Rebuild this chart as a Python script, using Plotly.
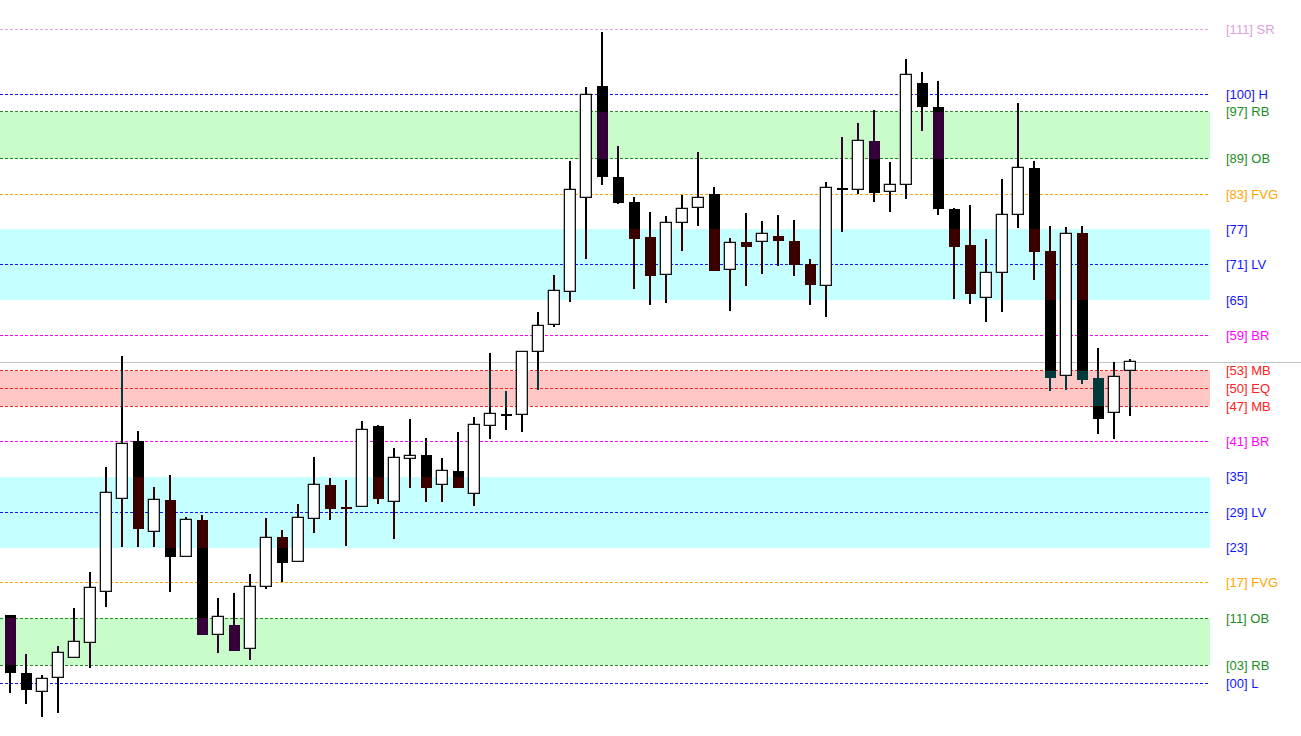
import plotly.graph_objects as go

# ---------------- data ----------------
opens = [11.5, 1.7, -1.58, 0.8, 4.19, 6.74, 15.4, 31.19, 41.09, 25.59,
         31.02, 21.34, 27.67, 8.1, 9.8, 5.72, 16.25, 24.74, 20.49, 27.79,
         33.56, 29.9, 29.83, 43.58, 30.73, 37.98, 38.71, 33.56, 35.94, 32.04,
         43.58, 45.6, 45.45, 56.15, 60.78, 66.33, 82.29, 101.3, 85.86, 81.6,
         75.67, 69.32, 78.05, 80.6, 83.0, 70.07, 74.82, 74.82, 75.84, 74.99,
         71.09, 67.35, 84.1, 83.65, 91.97, 83.3, 84.5, 101.8, 97.74, 80.42,
         74.3, 65.3, 69.56, 79.4, 87.39, 73.3, 52.07, 76.4, 51.78, 45.79,
         52.92]
highs = [11.5, 4.92, 1.36, 6.28, 12.73, 18.8, 36.67, 55.52, 42.78, 33.28,
         35.31, 28.18, 28.52, 14.43, 15.28, 18.5, 28.01, 25.98, 30.39, 38.37,
         34.8, 34.47, 44.48, 43.8, 39.9, 44.82, 41.6, 38.15, 42.6, 45.16,
         56.03, 49.58, 56.15, 62.94, 69.2, 88.62, 101.2, 110.5, 91.17, 82.46,
         79.9, 79.24, 82.8, 90.1, 84.16, 75.5, 79.8, 78.4, 79.46, 78.6,
         71.94, 85.0, 92.7, 95.08, 97.28, 88.45, 105.9, 103.7, 102.2, 80.7,
         81.1, 75.3, 85.57, 98.47, 88.6, 77.6, 77.37, 77.6, 56.88, 54.5,
         55.0]
lows = [-1.65, -3.5, -5.72, -5.15, 4.19, 2.5, 12.95, 23.04, 23.04, 23.04,
        15.4, 21.34, 8.2, 5.14, 5.48, 3.96, 15.9, 17.2, 20.49, 25.52,
        27.73, 23.3, 29.83, 30.34, 24.5, 33.16, 30.68, 30.78, 33.16, 30.1,
        41.37, 42.9, 42.56, 49.7, 60.4, 64.74, 71.94, 84.5, 81.27, 66.94,
        64.23, 64.57, 73.4, 77.64, 70.0, 63.2, 67.45, 69.5, 70.85, 69.15,
        64.23, 62.19, 76.6, 83.0, 81.7, 80.0, 82.2, 93.8, 79.4, 65.25,
        64.3, 61.34, 62.94, 77.3, 68.47, 49.6, 49.8, 50.8, 42.33, 41.43,
        45.4]
closes = [1.65, -1.14, 0.63, 5.04, 6.91, 16.08, 32.2, 40.53, 26.2, 31.02,
          21.34, 27.62, 8.2, 11.15, 5.48, 16.25, 24.57, 20.43, 27.96, 33.56,
          29.6, 29.6, 42.9, 31.19, 38.15, 38.49, 33.16, 35.94, 33.16, 43.75,
          45.62, 45.45, 56.15, 60.56, 66.5, 83.65, 99.78, 85.86, 81.55, 75.43,
          69.15, 78.05, 80.42, 82.29, 70.0, 74.65, 74.07, 76.18, 75.1, 71.02,
          67.52, 83.99, 83.8, 91.97, 83.24, 84.6, 103.2, 97.74, 80.42, 74.07,
          66.1, 69.56, 79.4, 87.39, 73.23, 51.83, 76.23, 51.5, 44.77, 51.95,
          54.45]

level_values = [111, 100, 97, 89, 83, 77, 71, 65, 59, 53, 50, 47, 41, 35, 29, 23, 17, 11, 3, 0]
level_labels = ["[111] SR", "[100] H", "[97] RB", "[89] OB", "[83] FVG", "[77]", "[71] LV",
                "[65]", "[59] BR", "[53] MB", "[50] EQ", "[47] MB", "[41] BR", "[35]",
                "[29] LV", "[23]", "[17] FVG", "[11] OB", "[03] RB", "[00] L"]
level_colors = ["#dda0dd", "#1414ff", "#228b22", "#228b22", "#ffa500", "#1414ff", "#1414ff",
                "#1414ff", "#ff00ff", "#ff2020", "#ff2020", "#ff2020", "#ff00ff", "#1414ff",
                "#1414ff", "#1414ff", "#ffa500", "#228b22", "#228b22", "#1414ff"]
level_has_line = [True, True, True, True, True, False, True, False, True, True, True, True,
                  True, False, True, False, True, True, True, True]

zone_lows = [89, 65, 47, 23, 3]
zone_highs = [97, 77, 53, 35, 11]
zone_fills = ["#c8fcc8", "#c6ffff", "#ffc6c6", "#c6ffff", "#c8fcc8"]
zone_candle_colors = ["#35003a", "#3a0000", "#003a3a", "#3a0000", "#35003a"]

current_price = 54.5

# ---------------- geometry ----------------
X0, X1 = -0.644, 80.67
Y0, Y1 = -8.998, 115.96
LINE_END = 75.0
LABEL_X = 75.88
BODY_W = 0.66
WICK_W = 0.075
MIN_BODY = 0.35


def zone_color(v, default="#000000"):
    for lo, hi, c in zip(zone_lows, zone_highs, zone_candle_colors):
        if lo <= v <= hi:
            return c
    return default


def split_segments(lo, hi):
    edges = sorted(set([lo, hi] + [e for e in zone_lows + zone_highs if lo < e < hi]))
    return [(a, b, zone_color((a + b) / 2)) for a, b in zip(edges[:-1], edges[1:])]


fig = go.Figure()
shapes = []

# zones (below traces)
for lo, hi, c in zip(zone_lows, zone_highs, zone_fills):
    shapes.append(dict(type="rect", xref="x", yref="y", x0=X0, x1=LINE_END, y0=lo, y1=hi,
                       fillcolor=c, line=dict(width=0), layer="below"))

# current price line
shapes.append(dict(type="line", xref="x", yref="y", x0=X0, x1=X1, y0=current_price,
                   y1=current_price, line=dict(color="#c4c4c4", width=1), layer="below"))

# level lines
for v, c, has in zip(level_values, level_colors, level_has_line):
    if has:
        shapes.append(dict(type="line", xref="x", yref="y", x0=X0, x1=LINE_END, y0=v, y1=v,
                           line=dict(color=c, width=1, dash="3px,2px"), layer="below"))

# wicks (as thin bars so they sit under the bodies), split by zone colour
wick = {}
for i, (h, l) in enumerate(zip(highs, lows)):
    for a, b, c in split_segments(l, h):
        xs, bs, hs = wick.setdefault(c, ([], [], []))
        xs.append(i)
        bs.append(a)
        hs.append(b - a)
for c, (xs, bs, hs) in wick.items():
    fig.add_trace(go.Bar(x=xs, y=hs, base=bs, width=WICK_W,
                         marker=dict(color=c, line=dict(width=0)), hoverinfo="skip"))

# bodies
bear = {}
bull_x, bull_base, bull_h = [], [], []
for i, (o, c) in enumerate(zip(opens, closes)):
    lo, hi = min(o, c), max(o, c)
    if hi - lo < MIN_BODY:
        m = (hi + lo) / 2
        lo, hi = m - MIN_BODY / 2, m + MIN_BODY / 2
    if c > o:
        bull_x.append(i)
        bull_base.append(lo)
        bull_h.append(hi - lo)
    else:
        for a, b, col in split_segments(lo, hi):
            xs, bs, hs = bear.setdefault(col, ([], [], []))
            xs.append(i)
            bs.append(a)
            hs.append(b - a)

fig.add_trace(go.Bar(x=bull_x, y=bull_h, base=bull_base, width=BODY_W,
                     marker=dict(color="white", line=dict(color="#111111", width=1.3)),
                     hoverinfo="skip"))
for col, (xs, bs, hs) in bear.items():
    fig.add_trace(go.Bar(x=xs, y=hs, base=bs, width=BODY_W + 0.06,
                         marker=dict(color=col, line=dict(width=0)), hoverinfo="skip"))

# labels
for v, t, c in zip(level_values, level_labels, level_colors):
    fig.add_annotation(x=LABEL_X, y=v, text=t, showarrow=False, xanchor="left",
                       yanchor="middle", font=dict(family="Arial", size=13, color=c))

fig.update_layout(
    width=1301, height=736,
    margin=dict(l=0, r=0, t=0, b=0, pad=0),
    paper_bgcolor="white", plot_bgcolor="white",
    showlegend=False, barmode="overlay", bargap=0,
    shapes=shapes,
    xaxis=dict(range=[X0, X1], visible=False, showgrid=False, zeroline=False),
    yaxis=dict(range=[Y0, Y1], visible=False, showgrid=False, zeroline=False),
)

fig.write_html(
    "out.html",
    config={"displayModeBar": False},
    post_script=(
        "document.body.style.margin='0px';document.body.style.overflow='hidden';"
        "document.querySelectorAll('.shapelayer path').forEach(function(p){"
        "p.style.shapeRendering='crispEdges';});"
    ),
)
